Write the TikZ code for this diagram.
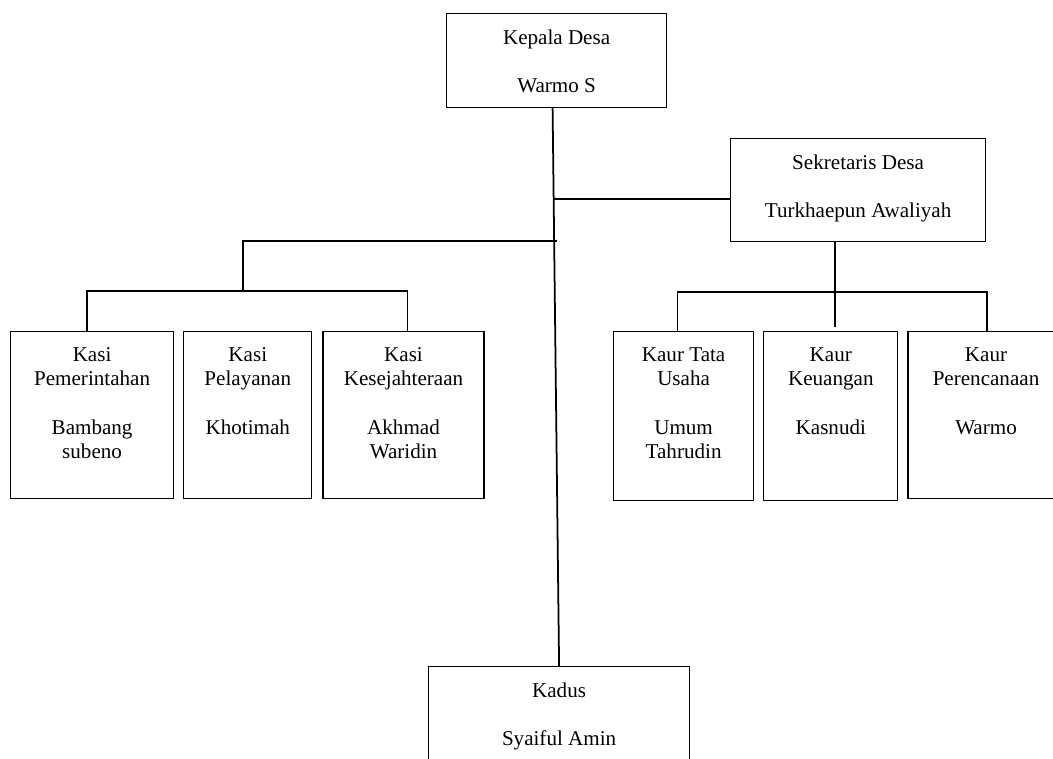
\documentclass[tikz,border=0pt]{standalone}
\usepackage{fontspec}
\setmainfont{Liberation Serif}
\usetikzlibrary{positioning,calc}
\tikzset{
  jbox/.style={rectangle, draw=black, line width=0.7pt, inner sep=0pt, anchor=north west},
  jtxt/.style={label={[anchor=north, align=center, yshift=-6pt, font=\fontsize{12}{13.8}\selectfont]north:#1}},
  jgaris/.style={line width=1pt, black},
}

\begin{document}
\begin{tikzpicture}[x=0.02cm, y=-0.02cm, node distance=0.18cm]
  \useasboundingbox (0,0) rectangle (1053,758);
  % pimpinan
  \node[jbox, minimum width=4.4cm, minimum height=1.88cm, jtxt={Kepala Desa\\[13.8pt]Warmo S}] (kades) at (446,13) {};
  \node[jbox, minimum width=5.1cm, minimum height=2.06cm, jtxt={Sekretaris Desa\\[13.8pt]Turkhaepun Awaliyah}] (sekdes) at (730,138) {};
  % kasi
  \node[jbox, minimum width=3.26cm, minimum height=3.34cm, jtxt={Kasi\\Pemerintahan\\[13.8pt]Bambang\\subeno}] (kasi1) at (10,331) {};
  \node[jbox, right=of kasi1.north east, anchor=north west, minimum width=2.56cm, minimum height=3.34cm, jtxt={Kasi\\Pelayanan\\[13.8pt]Khotimah}] (kasi2) {};
  \node[jbox, right=0.2cm of kasi2.north east, anchor=north west, minimum width=3.22cm, minimum height=3.34cm, jtxt={Kasi\\Kesejahteraan\\[13.8pt]Akhmad\\Waridin}] (kasi3) {};
  % kaur
  \node[jbox, minimum width=2.8cm, minimum height=3.38cm, jtxt={Kaur Tata\\Usaha\\[13.8pt]Umum\\Tahrudin}] (kaur1) at (613,331) {};
  \node[jbox, right=of kaur1.north east, anchor=north west, minimum width=2.68cm, minimum height=3.38cm, jtxt={Kaur\\Keuangan\\[13.8pt]Kasnudi}] (kaur2) {};
  \node[jbox, right=of kaur2.north east, anchor=north west, minimum width=3.12cm, minimum height=3.34cm, jtxt={Kaur\\Perencanaan\\[13.8pt]Warmo}] (kaur3) {};
  % kadus
  \node[jbox, minimum width=5.22cm, minimum height=2.0cm, jtxt={Kadus\\[13.8pt]Syaiful Amin}] (kadus) at (428,666) {};
  % garis
  \coordinate (cabsek) at (553,199);
  \coordinate (cabkasi) at (557,241);
  \coordinate (bagikasi) at (243,291);
  \coordinate (bagikaur) at (835,292);
  \draw[jgaris] ($(kades.south)+(-4,0)$) -- (kadus.north);
  \draw[jgaris] (cabsek) -- (cabsek -| sekdes.west);
  \draw[jgaris] (cabkasi) -| (bagikasi);
  \draw[jgaris] ($(kasi1.north)+(-5,0)$) |- (bagikasi) -| ($(kasi3.north)+(4,0)$);
  \draw[jgaris] (sekdes.south -| bagikaur) -- ($(kaur2.north -| bagikaur)+(0,-4)$);
  \draw[jgaris] ($(kaur1.north)+(-6,0)$) |- (bagikaur) -| ($(kaur3.north)+(1,0)$);
\end{tikzpicture}
\end{document}
